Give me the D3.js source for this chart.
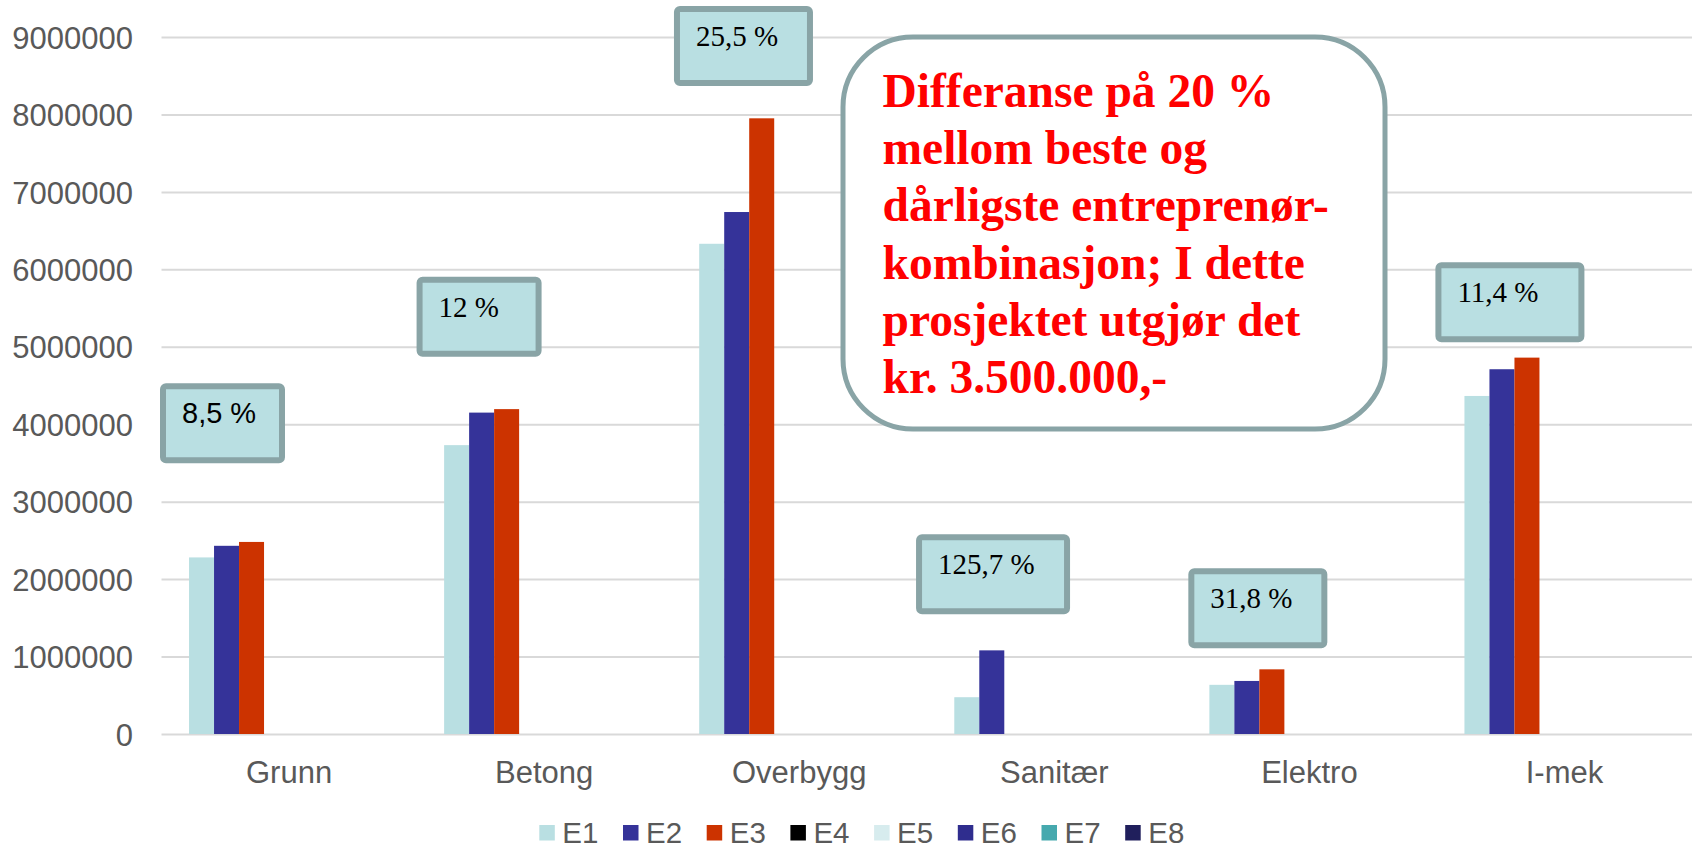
<!DOCTYPE html>
<html>
<head>
<meta charset="utf-8">
<script src="https://cdn.jsdelivr.net/npm/d3@7"></script>
<style>
  html, body { margin: 0; padding: 0; background: #ffffff; }
  svg { display: block; }
</style>
</head>
<body>
<svg id="chart" width="1696" height="849"></svg>
<script>
// ---------------- data ----------------
const categories = ["Grunn", "Betong", "Overbygg", "Sanitær", "Elektro", "I-mek"];
const seriesNames = ["E1", "E2", "E3", "E4", "E5", "E6", "E7", "E8"];
const E1 = [2280000, 3730000, 6330000, 475000, 635000, 4365000];
const E2 = [2430000, 4150000, 6740000, 1080000, 685000, 4710000];
const E3 = [2480000, 4195000, 7950000, 0, 835000, 4860000];
const E4 = [0, 0, 0, 0, 0, 0];
const E5 = [0, 0, 0, 0, 0, 0];
const E6 = [0, 0, 0, 0, 0, 0];
const E7 = [0, 0, 0, 0, 0, 0];
const E8 = [0, 0, 0, 0, 0, 0];
const yTicks = [0, 1000000, 2000000, 3000000, 4000000, 5000000, 6000000, 7000000, 8000000, 9000000];
const diffLabels = ["8,5 %", "12 %", "25,5 %", "125,7 %", "31,8 %", "11,4 %"];
const noteLines = [
  "Differanse på 20 %",
  "mellom beste og",
  "dårligste entreprenør-",
  "kombinasjon; I dette",
  "prosjektet utgjør det",
  "kr. 3.500.000,-"
];

(function () {
// ---------------- styles ----------------
const colors = ["#b9dfe2", "#353399", "#cc3300", "#000000", "#d7ecee", "#2f2d8e", "#46a9ae", "#201f5c"];
const boxFill = "#b9dfe2", boxStroke = "#89a4a6";
const axisColor = "#595959";

const svg = d3.select("#chart");
const pLeft = 161.5, pRight = 1692, pTop = 37, pBottom = 734;

const x0 = d3.scaleBand().domain(categories).range([pLeft, pRight])
  .paddingInner(0.2159).paddingOuter(0.2159 / 2);
const x1 = d3.scaleBand().domain(seriesNames).range([0, x0.bandwidth()]).padding(0);
const y = d3.scaleLinear().domain([0, 9000000]).range([pBottom, pTop]);

const seriesValues = [E1, E2, E3, E4, E5, E6, E7, E8];

// gridlines + y axis
const yAxis = d3.axisLeft(y).tickValues(yTicks).tickFormat(d3.format("d"))
  .tickSize(-(pRight - pLeft)).tickPadding(28.5);
const gy = svg.append("g").attr("transform", `translate(${pLeft},0)`).call(yAxis);
gy.select(".domain").remove();
gy.selectAll(".tick line").attr("stroke", "#d9d9d9").attr("stroke-width", 2);
gy.selectAll(".tick text")
  .attr("fill", axisColor)
  .style("font-family", "'Liberation Sans', Arial, sans-serif")
  .style("font-size", "31px")
  .attr("dy", "0.36em");

// x axis labels
const xAxis = d3.axisBottom(x0).tickSize(0).tickPadding(0);
const gx = svg.append("g").attr("transform", `translate(0,${pBottom})`).call(xAxis);
gx.select(".domain").remove();
gx.selectAll(".tick text")
  .attr("fill", axisColor)
  .attr("y", 49).attr("dy", null)
  .style("font-family", "'Liberation Sans', Arial, sans-serif")
  .style("font-size", "31px");

// bars
const groups = svg.append("g").selectAll("g")
  .data(categories).join("g")
  .attr("transform", d => `translate(${x0(d)},0)`);
groups.selectAll("rect")
  .data((c, ci) => seriesNames.map((s, si) => ({ s, si, v: seriesValues[si][ci] })))
  .join("rect")
  .attr("x", d => x1(d.s))
  .attr("width", x1.bandwidth())
  .attr("y", d => y(d.v))
  .attr("height", d => pBottom - y(d.v))
  .attr("fill", d => colors[d.si]);

// difference annotation boxes (layout relative to category band)
const boxLayout = [
  { dx: -1.5, top: 4530000, w: 125, font: "'Liberation Sans', Arial, sans-serif" },
  { dx: 0, top: 5905000, w: 125, font: "'Liberation Serif', 'Times New Roman', serif" },
  { dx: 2.3, top: 9400000, w: 139, font: "'Liberation Serif', 'Times New Roman', serif" },
  { dx: -10.7, top: 2580000, w: 154, font: "'Liberation Serif', 'Times New Roman', serif" },
  { dx: 6.5, top: 2140000, w: 139, font: "'Liberation Serif', 'Times New Roman', serif" },
  { dx: -1.5, top: 6090000, w: 149, font: "'Liberation Serif', 'Times New Roman', serif" }
];
const boxH = 80;
const ann = svg.append("g").selectAll("g").data(categories).join("g")
  .attr("transform", (c, i) => {
    const step = x0.step();
    const bandStart = x0(c) - (step - x0.bandwidth()) / 2;
    return `translate(${bandStart + boxLayout[i].dx},${y(boxLayout[i].top)})`;
  });
ann.append("rect")
  .attr("x", 3).attr("y", 3)
  .attr("width", (c, i) => boxLayout[i].w - 6).attr("height", boxH - 6)
  .attr("rx", 3)
  .attr("fill", boxFill).attr("stroke", boxStroke).attr("stroke-width", 6);
ann.append("text")
  .attr("x", 22).attr("y", 40)
  .style("font-family", (c, i) => boxLayout[i].font)
  .style("font-size", "29px")
  .attr("fill", "#000000")
  .text((c, i) => diffLabels[i]);

// big note box
const note = svg.append("g");
note.append("rect")
  .attr("x", 843).attr("y", 37).attr("width", 542).attr("height", 392)
  .attr("rx", 70).attr("ry", 70)
  .attr("fill", "#ffffff").attr("stroke", boxStroke).attr("stroke-width", 5);
note.selectAll("text").data(noteLines).join("text")
  .attr("x", 882.5)
  .attr("y", (d, i) => 106.7 + i * 57.3)
  .attr("fill", "#ff0000")
  .style("font-family", "'Liberation Serif', 'Times New Roman', serif")
  .style("font-weight", "bold")
  .style("font-size", "47.5px")
  .text(d => d);

// legend
const legend = svg.append("g").selectAll("g").data(seriesNames).join("g")
  .attr("transform", (d, i) => `translate(${539.3 + i * 83.7},825)`);
legend.append("rect").attr("width", 15.5).attr("height", 15.5).attr("fill", (d, i) => colors[i]);
legend.append("text")
  .attr("x", 23).attr("y", 18.3)
  .attr("fill", axisColor)
  .style("font-family", "'Liberation Sans', Arial, sans-serif")
  .style("font-size", "29.5px")
  .text(d => d);
})();
</script>
</body>
</html>
